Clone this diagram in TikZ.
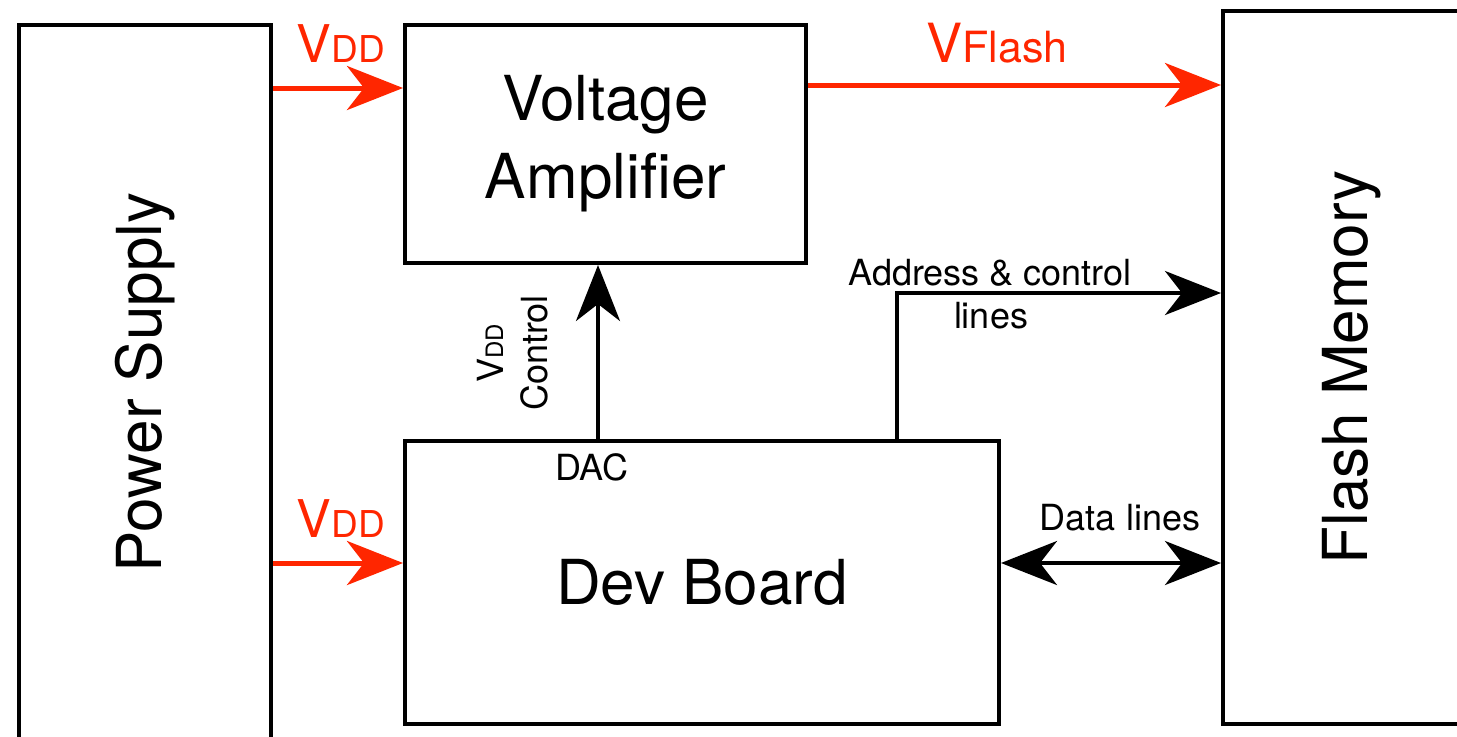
\documentclass[tikz,border=0pt]{standalone}
\usepackage{fontspec}
\setmainfont{TeX Gyre Heros}
\usetikzlibrary{arrows.meta}
\definecolor{vred}{RGB}{255,38,0}
\begin{document}
\begin{tikzpicture}[x=0.5pt,y=-0.5pt,
  box/.style={draw, line width=2pt, inner sep=0pt, align=center, font=\fontsize{31}{39}\selectfont},
  tipb/.tip={Stealth[length=28pt, width=22pt, inset=8.5pt]},
  redarrow/.style={draw=vred, line width=2.5pt, -{tipb[fill=vred]}},
  blackarrow/.style={draw, line width=2pt, -tipb},
  redlbl/.style={text=vred, anchor=base, inner sep=0pt},
  smalllbl/.style={anchor=base, inner sep=0pt, font=\fontsize{18}{22}\selectfont}]
\useasboundingbox (0,0) rectangle (1457,736);
\clip (0,0) rectangle (1457,736);
\fill[white] (0,0) rectangle (1457,736);

% boxes
\node[box, minimum width=126pt, minimum height=357.5pt] (ps) at (145,382.5) {\rotatebox{90}{Power Supply}};
\node[box, minimum width=200.5pt, minimum height=119pt] (va) at (605.5,144) {Voltage\\Amplifier};
\node[box, minimum width=297pt, minimum height=141.5pt] (db) at (702,582.5) {Dev Board};
\node[box, minimum width=128.5pt, minimum height=356.5pt] (fm) at (1351.5,367.5) {\rotatebox{90}{Flash Memory}};

% helper coordinates
\coordinate (ytop) at (0,88);
\coordinate (yfl) at (0,85);
\coordinate (ybot) at (0,563);
\coordinate (xctl) at (598,0);
\coordinate (addr) at (897,293);

% connectors
\draw[redarrow] (ps.east |- ytop) -- (va.west |- ytop);
\draw[redarrow] (ps.east |- ybot) -- (db.west |- ybot);
\draw[redarrow] (va.east |- yfl) -- (fm.west |- yfl);
\draw[blackarrow] (db.north -| xctl) -- (va.south -| xctl);
\draw[blackarrow] (db.north -| addr) |- (fm.west |- addr);
\draw[draw, line width=2pt, tipb-tipb] (db.east |- ybot) -- (fm.west |- ybot);

% labels
\node[redlbl] (l1) at (341,62) {\fontsize{26}{30}\selectfont V\fontsize{18.5}{22}\selectfont DD};
\node[redlbl] (l2) at (341,537) {\fontsize{26}{30}\selectfont V\fontsize{18.5}{22}\selectfont DD};
\node[redlbl] (l3) at (997,62) {\fontsize{27}{30}\selectfont V\fontsize{21.5}{26}\selectfont Flash};
\node[smalllbl] (dac) at (592,480) {DAC};
\node[smalllbl] (adr1) at (990,285) {Address \& control};
\node[smalllbl] (adr2) at (991,328) {lines};
\node[smalllbl] (dl) at (1120,530) {Data lines};
\node[smalllbl, rotate=90] (ctl) at (547,353) {Control};
\node[anchor=base, inner sep=0pt, rotate=90] (vddc) at (503,353) {\fontsize{18}{22}\selectfont V\fontsize{12}{14}\selectfont DD};
\end{tikzpicture}
\end{document}
